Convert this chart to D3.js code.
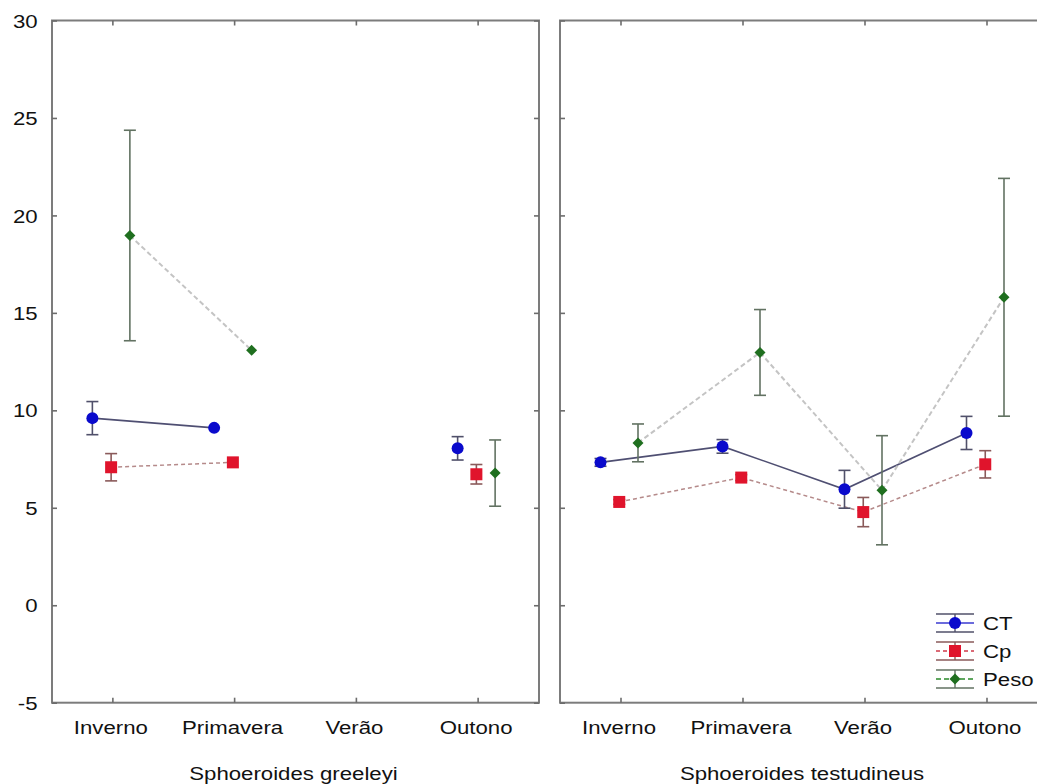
<!DOCTYPE html>
<html>
<head>
<meta charset="utf-8">
<script src="https://cdn.jsdelivr.net/npm/d3@7"></script>
<style>
  html, body { margin: 0; padding: 0; background: #fff; }
  svg { display: block; }
  text { font-family: "Liberation Sans", Arial, sans-serif; fill: #111; }
</style>
</head>
<body>
<svg id="chart" width="1037" height="784"></svg>
<script>
// ---- data ----
const seasons = ["Inverno", "Primavera", "Verão", "Outono"];
const species = ["Sphoeroides greeleyi", "Sphoeroides testudineus"];
const seriesNames = ["CT", "Cp", "Peso"];
const yTicks = [30, 25, 20, 15, 10, 5, 0, -5];
const yTickLabels = ["30", "25", "20", "15", "10", "5", "0", "-5"];

// Sphoeroides greeleyi (mean, +/- error)
const ctGreeleyi      = [9.6, 9.1, null, 8.05];
const ctGreeleyiErr   = [0.85, 0, null, 0.6];
const cpGreeleyi      = [7.08, 7.33, null, 6.72];
const cpGreeleyiErr   = [0.7, 0, null, 0.5];
const pesoGreeleyi    = [18.97, 13.08, null, 6.78];
const pesoGreeleyiErr = [5.4, 0, null, 1.7];

// Sphoeroides testudineus
const ctTestud      = [7.33, 8.15, 5.95, 8.84];
const ctTestudErr   = [0.2, 0.35, 0.97, 0.85];
const cpTestud      = [5.3, 6.55, 4.78, 7.23];
const cpTestudErr   = [0.12, 0.15, 0.75, 0.7];
const pesoTestud    = [8.33, 12.97, 5.9, 15.8];
const pesoTestudErr = [0.97, 2.2, 2.8, 6.1];

const panelsData = [
  { name: species[0], series: [
    { key: "CT", values: ctGreeleyi, errors: ctGreeleyiErr },
    { key: "Cp", values: cpGreeleyi, errors: cpGreeleyiErr },
    { key: "Peso", values: pesoGreeleyi, errors: pesoGreeleyiErr } ] },
  { name: species[1], series: [
    { key: "CT", values: ctTestud, errors: ctTestudErr },
    { key: "Cp", values: cpTestud, errors: cpTestudErr },
    { key: "Peso", values: pesoTestud, errors: pesoTestudErr } ] }
];

// ---- styles ----
const style = {
  CT:   { marker: "#0a0acc", line: "#4f4f72", dash: null,  lineW: 1.6, err: "#50506a" },
  Cp:   { marker: "#e0142c", line: "#b58a8a", dash: "4,3", lineW: 1.5, err: "#8a5a5a" },
  Peso: { marker: "#1f6f1f", line: "#c4c4c4", dash: "5,3", lineW: 2,   err: "#627262" }
};

const svg = d3.select("#chart");
const plotTop = 20.5, plotBottom = 702.7;
const panelX = [[52, 539], [560, 1048]];
const TX = 1.2;   // horizontal text stretch
const FS = 18.5;

const y = d3.scaleLinear().domain([-5, 30]).range([plotBottom, plotTop]);
const off = d3.scalePoint().domain(seriesNames).range([-20.5, 17]);
const yLabel = v => yTickLabels[yTicks.indexOf(v)];

function drawMarker(g, key, px, py) {
  const st = style[key];
  if (key === "CT") {
    g.append("circle").attr("cx", px).attr("cy", py).attr("r", 6).attr("fill", st.marker);
  } else if (key === "Cp") {
    g.append("rect").attr("x", px - 6).attr("y", py - 6).attr("width", 12).attr("height", 12).attr("fill", st.marker);
  } else {
    g.append("path").attr("d", `M${px},${py - 5.5}L${px + 5.5},${py}L${px},${py + 5.5}L${px - 5.5},${py}Z`)
      .attr("fill", st.marker);
  }
}

panelsData.forEach((panel, pi) => {
  const [x0, x1] = panelX[pi];
  const x = d3.scaleBand().domain(seasons).range([x0, x1]).padding(0);
  const cx = s => x(s) + x.bandwidth() / 2;
  const g = svg.append("g");

  // frame
  g.append("rect").attr("x", x0).attr("y", plotTop).attr("width", x1 - x0).attr("height", plotBottom - plotTop)
    .attr("fill", "none").attr("stroke", "#7c7c7c").attr("stroke-width", 2);

  // axes (ticks inside)
  const axL = g.append("g").attr("transform", `translate(${x0},0)`)
    .call(d3.axisLeft(y).tickValues(yTicks).tickFormat(yLabel).tickSizeInner(-5).tickSizeOuter(0).tickPadding(12));
  const axR = g.append("g").attr("transform", `translate(${x1},0)`)
    .call(d3.axisRight(y).tickValues(yTicks).tickSizeInner(-5).tickSizeOuter(0).tickFormat(""));
  const axT = g.append("g").attr("transform", `translate(0,${plotTop})`)
    .call(d3.axisTop(x).tickSizeInner(-5).tickSizeOuter(0).tickFormat(""));
  const axB = g.append("g").attr("transform", `translate(0,${plotBottom})`)
    .call(d3.axisBottom(x).tickSizeInner(-5).tickSizeOuter(0).tickPadding(18));
  [axL, axR, axT, axB].forEach(a => {
    a.select(".domain").remove();
    a.selectAll(".tick line").attr("stroke", "#6c6c6c").attr("stroke-width", 1.6);
  });
  if (pi === 1) axL.selectAll(".tick text").remove();
  axL.selectAll(".tick text").attr("font-size", FS).attr("fill", "#111")
    .attr("font-family", "Liberation Sans, Arial, sans-serif").attr("dy", "0.36em")
    .attr("transform", `scale(${TX},1)`);
  axB.selectAll(".tick text").attr("font-size", FS).attr("fill", "#111")
    .attr("font-family", "Liberation Sans, Arial, sans-serif")
    .attr("transform", `translate(-2,0) scale(${TX},1)`);

  // panel title
  g.append("text").attr("text-anchor", "middle").attr("font-size", FS)
    .attr("transform", `translate(${(x0 + x1) / 2 - 2},780) scale(${TX},1)`)
    .text(panel.name);

  // lines
  panel.series.forEach(s => {
    const st = style[s.key];
    const pts = seasons.map((se, i) => ({ se, v: s.values[i] }));
    const line = d3.line().defined(d => d.v !== null)
      .x(d => cx(d.se) + off(s.key)).y(d => y(d.v));
    g.append("path").datum(pts).attr("d", line).attr("fill", "none")
      .attr("stroke", st.line).attr("stroke-width", st.lineW)
      .attr("stroke-dasharray", st.dash);
  });

  // error bars + markers
  panel.series.forEach(s => {
    const st = style[s.key];
    const pts = seasons.map((se, i) => ({ se, v: s.values[i], e: s.errors[i] }))
      .filter(d => d.v !== null);
    const eg = g.append("g");
    pts.filter(d => d.e > 0).forEach(d => {
      const px = cx(d.se) + off(s.key);
      eg.append("line").attr("x1", px).attr("x2", px).attr("y1", y(d.v + d.e)).attr("y2", y(d.v - d.e))
        .attr("stroke", st.err).attr("stroke-width", 1.6);
      [d.v + d.e, d.v - d.e].forEach(val => {
        eg.append("line").attr("x1", px - 6).attr("x2", px + 6).attr("y1", y(val)).attr("y2", y(val))
          .attr("stroke", st.err).attr("stroke-width", 1.6);
      });
    });
    pts.forEach(d => {
      drawMarker(g, s.key, cx(d.se) + off(s.key), y(d.v));
    });
  });
});

// legend
const legY = d3.scalePoint().domain(seriesNames).range([623, 679]);
const legendColors = { CT: "#3a3ad0", Cp: "#d03a4a", Peso: "#2a8a2a" };
const lg = svg.append("g");
seriesNames.forEach(k => {
  const yy = legY(k), lx0 = 936, lx1 = 974, xm = 955;
  const st = style[k];
  [yy - 9, yy + 9].forEach(v => lg.append("line").attr("x1", lx0).attr("x2", lx1).attr("y1", v).attr("y2", v)
    .attr("stroke", st.err).attr("stroke-width", 1.4));
  lg.append("line").attr("x1", lx0).attr("x2", lx1).attr("y1", yy).attr("y2", yy)
    .attr("stroke", legendColors[k]).attr("stroke-width", 1.4).attr("stroke-dasharray", st.dash);
  lg.append("line").attr("x1", xm).attr("x2", xm).attr("y1", yy - 9).attr("y2", yy + 9)
    .attr("stroke", st.err).attr("stroke-width", 1.4);
  drawMarker(lg, k, xm, yy);
  lg.append("text").attr("font-size", FS).attr("transform", `translate(983,${yy + 6.5}) scale(${TX},1)`).text(k);
});
</script>
</body>
</html>
